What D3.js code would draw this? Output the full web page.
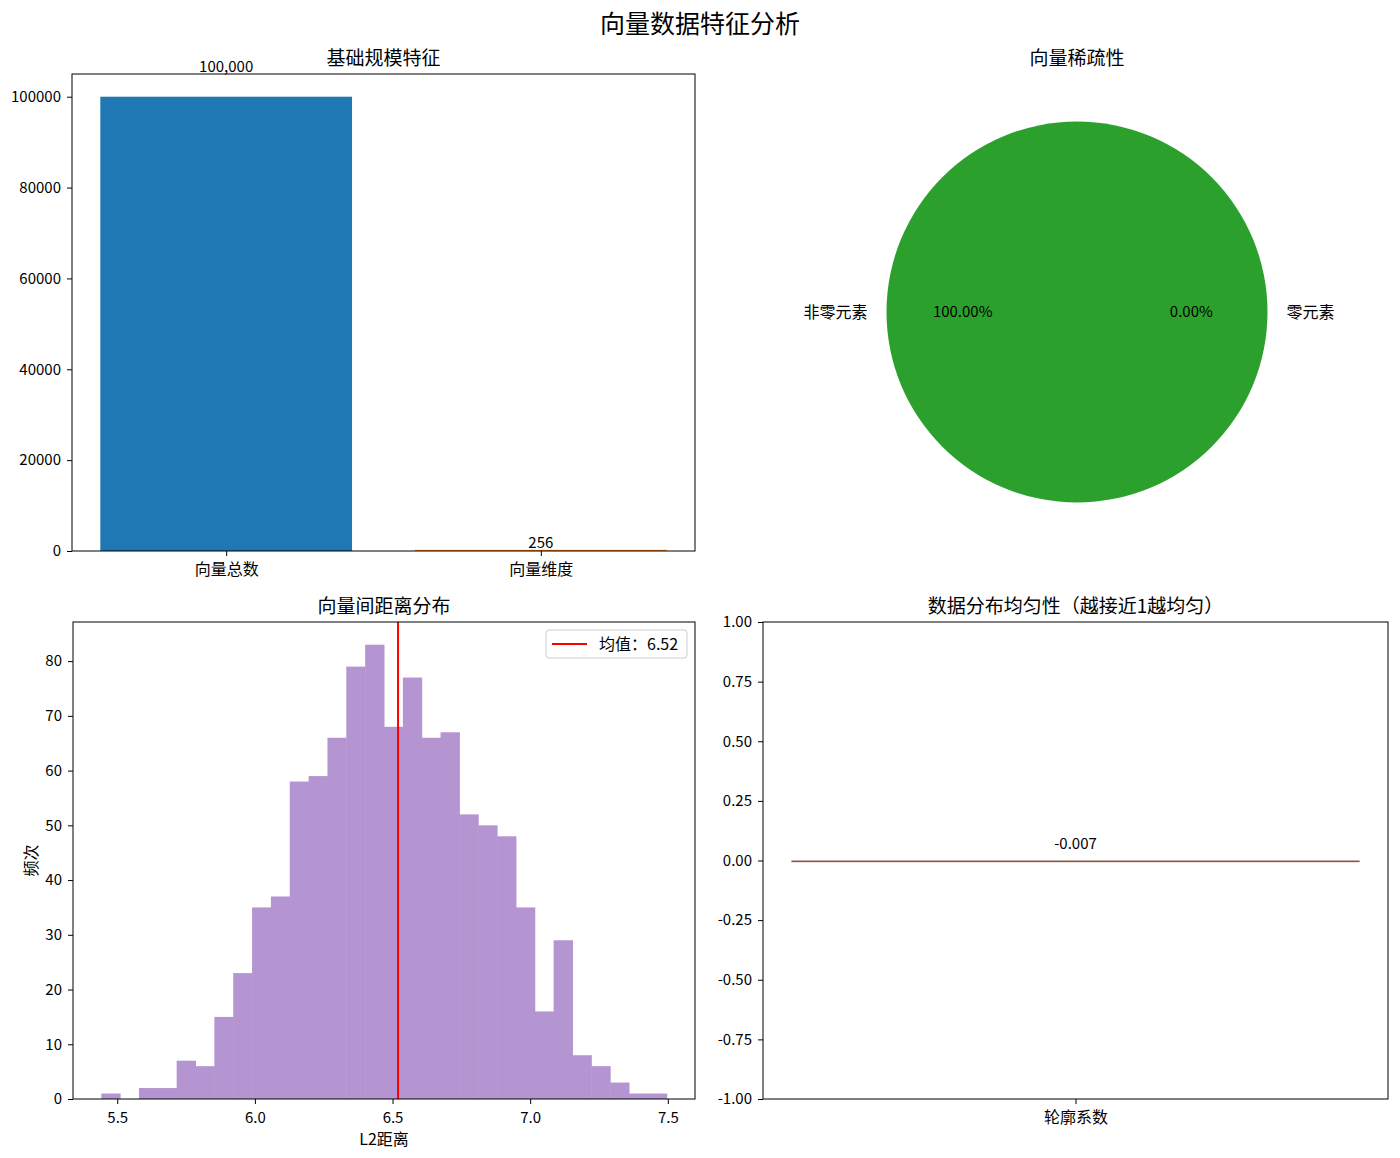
<!DOCTYPE html>
<html><head><meta charset="utf-8">
<script src="https://cdn.jsdelivr.net/npm/d3@7"></script>
<style>
body{margin:0;background:#fff;}
text{font-family:"Noto Sans CJK SC","DejaVu Sans",sans-serif;fill:#000;}
</style></head><body>
<svg id="c" width="1400" height="1158"></svg>
<script>
// ---- data ----
const scaleCategories = ["向量总数", "向量维度"];
const scaleValues = [100000, 256];
const scaleLabels = ["100,000", "256"];
const scaleColors = ["#1f77b4", "#ff7f0e"];

const sparsityLabels = ["非零元素", "零元素"];
const sparsityValues = [100, 0];
const sparsityPct = ["100.00%", "0.00%"];
const sparsityColors = ["#2ca02c", "#d62728"];

const histCounts = [1,0,2,2,7,6,15,23,35,37,58,59,66,79,83,68,77,66,67,52,50,48,35,16,29,8,6,3,1,1];
const histMin = 5.442, histMax = 7.496;
const meanDistance = 6.52;
const histXTicks = [5.5, 6.0, 6.5, 7.0, 7.5];
const histYTicks = [0,10,20,30,40,50,60,70,80];

const silCategories = ["轮廓系数"];
const silValues = [-0.007];
const silYTicks = [-1,-0.75,-0.5,-0.25,0,0.25,0.5,0.75,1];

const svg = d3.select("#c");
const fs = 15;
const fsCJK = 16;
const TS = 5, TP = 6, TPX = 8;

svg.append("text").attr("x",700).attr("y",33).attr("text-anchor","middle")
  .style("font-size","25px").text("向量数据特征分析");

function frame(g, w, h){
  g.append("rect").attr("width",w).attr("height",h).attr("fill","none")
   .attr("stroke","#000").attr("stroke-width",1);
}
function styleAxis(a){
  a.select(".domain").remove();
  a.selectAll(".tick line").attr("stroke","#000");
  a.selectAll(".tick text").style("font-size",fs+"px").attr("fill","#000");
}

// ---- Panel 1: bar ----
{
  const L=72,T=74,W=623,H=477;
  const g=svg.append("g").attr("transform",`translate(${L},${T})`);
  const x=d3.scaleLinear().domain([-0.49,1.49]).range([0,W]);
  const y=d3.scaleLinear().domain([0,105000]).range([H,0]);
  g.selectAll("rect.b").data(scaleValues).join("rect").attr("class","b")
   .attr("x",(d,i)=>x(i-0.4)).attr("width",x(0.8)-x(0))
   .attr("y",d=>y(d)).attr("height",d=>H-y(d))
   .attr("fill",(d,i)=>scaleColors[i]);
  g.selectAll("text.v").data(scaleValues).join("text").attr("class","v")
   .attr("x",(d,i)=>x(i)).attr("y",d=>y(d*1.05)-2).attr("text-anchor","middle")
   .style("font-size",fs+"px").text((d,i)=>scaleLabels[i]);
  const ax=g.append("g").attr("transform",`translate(0,${H})`)
   .call(d3.axisBottom(x).tickValues([0,1]).tickFormat(i=>scaleCategories[i]).tickSize(TS).tickPadding(TPX));
  styleAxis(ax);
  ax.selectAll(".tick text").style("font-size",fsCJK+"px");
  const ay=g.append("g").call(d3.axisLeft(y).tickValues([0,20000,40000,60000,80000,100000]).tickFormat(d3.format("d")).tickSize(TS).tickPadding(TP));
  styleAxis(ay);
  frame(g,W,H);
  svg.append("text").attr("x",L+W/2).attr("y",65).attr("text-anchor","middle").style("font-size","19px").text("基础规模特征");
}

// ---- Panel 2: pie ----
{
  const cx=1077, cy=312, r=190.5;
  const g=svg.append("g").attr("transform",`translate(${cx},${cy})`);
  const total=d3.sum(sparsityValues);
  let acc=0;
  const slices=sparsityValues.map((v,i)=>{const a0=acc/total*2*Math.PI; acc+=v; const a1=acc/total*2*Math.PI; return {i,v,a0,a1};});
  const toD3=a=>Math.PI/2 - a;
  const arc=d3.arc().innerRadius(0).outerRadius(r);
  slices.forEach(s=>{
    if(s.v>0){
      g.append("path").attr("d",arc({startAngle:toD3(s.a1),endAngle:toD3(s.a0)})).attr("fill",sparsityColors[s.i]);
    }
    const mid=(s.a0+s.a1)/2;
    const cs=Math.cos(mid), sn=Math.sin(mid);
    g.append("text").attr("x",1.1*r*cs).attr("y",-1.1*r*sn).attr("dy","0.35em")
     .attr("text-anchor",cs<0?"end":"start").style("font-size",fsCJK+"px").text(sparsityLabels[s.i]);
    g.append("text").attr("x",0.6*r*cs).attr("y",-0.6*r*sn).attr("dy","0.35em")
     .attr("text-anchor","middle").style("font-size",fs+"px").text(sparsityPct[s.i]);
  });
  svg.append("text").attr("x",cx).attr("y",65).attr("text-anchor","middle").style("font-size","19px").text("向量稀疏性");
}

// ---- Panel 3: histogram ----
{
  const L=73,T=622,W=622,H=477;
  const g=svg.append("g").attr("transform",`translate(${L},${T})`);
  const span=histMax-histMin;
  const x=d3.scaleLinear().domain([histMin-0.05*span, histMax+0.05*span]).range([0,W]);
  const y=d3.scaleLinear().domain([0, d3.max(histCounts)*1.05]).range([H,0]);
  const bw=span/histCounts.length;
  g.selectAll("rect.h").data(histCounts).join("rect").attr("class","h")
   .attr("x",(d,i)=>x(histMin+i*bw)).attr("width",x(histMin+bw)-x(histMin)+0.5)
   .attr("y",d=>y(d)).attr("height",d=>H-y(d))
   .attr("fill","#b495d1");
  g.append("line").attr("x1",x(meanDistance)).attr("x2",x(meanDistance)).attr("y1",0).attr("y2",H)
   .attr("stroke","#ff0000").attr("stroke-width",2);
  const ax=g.append("g").attr("transform",`translate(0,${H})`)
   .call(d3.axisBottom(x).tickValues(histXTicks).tickFormat(d3.format(".1f")).tickSize(TS).tickPadding(TPX));
  styleAxis(ax);
  const ay=g.append("g").call(d3.axisLeft(y).tickValues(histYTicks).tickSize(TS).tickPadding(TP));
  styleAxis(ay);
  frame(g,W,H);
  const lg=g.append("g").attr("transform",`translate(${W-149},8)`);
  lg.append("rect").attr("width",141).attr("height",28).attr("rx",3).attr("fill","#fff").attr("fill-opacity",0.8).attr("stroke","#ccc");
  lg.append("line").attr("x1",6).attr("x2",41).attr("y1",14).attr("y2",14).attr("stroke","#ff0000").attr("stroke-width",2);
  lg.append("text").attr("x",53).attr("y",14).attr("dy","0.35em").style("font-size","16px").text("均值：" + meanDistance.toFixed(2));
  svg.append("text").attr("x",L+W/2).attr("y",1145).attr("text-anchor","middle").style("font-size",fsCJK+"px").text("L2距离");
  svg.append("text").attr("transform",`translate(37,${T+H/2}) rotate(-90)`).attr("text-anchor","middle").style("font-size",fsCJK+"px").text("频次");
  svg.append("text").attr("x",L+W/2).attr("y",613).attr("text-anchor","middle").style("font-size","19px").text("向量间距离分布");
}

// ---- Panel 4: silhouette ----
{
  const L=763,T=622,W=625,H=477;
  const g=svg.append("g").attr("transform",`translate(${L},${T})`);
  const x=d3.scaleLinear().domain([-0.44,0.44]).range([0,W]);
  const y=d3.scaleLinear().domain([-1,1]).range([H,0]);
  g.selectAll("rect.s").data(silValues).join("rect").attr("class","s")
   .attr("x",(d,i)=>x(i-0.4)).attr("width",x(0.8)-x(0))
   .attr("y",d=>y(Math.max(0,d))).attr("height",d=>Math.max(1.2,Math.abs(y(d)-y(0))))
   .attr("fill","#8c564b");
  g.selectAll("text.v").data(silValues).join("text").attr("class","v")
   .attr("x",(d,i)=>x(i)).attr("y",y(0.05)).attr("text-anchor","middle")
   .style("font-size",fs+"px").text(d=>d3.format(".3f")(d).replace("−","-"));
  const ax=g.append("g").attr("transform",`translate(0,${H})`)
   .call(d3.axisBottom(x).tickValues([0]).tickFormat(i=>silCategories[i]).tickSize(TS).tickPadding(TPX));
  styleAxis(ax);
  ax.selectAll(".tick text").style("font-size",fsCJK+"px");
  const ay=g.append("g").call(d3.axisLeft(y).tickValues(silYTicks).tickFormat(d=>d3.format(".2f")(d).replace("−","-")).tickSize(TS).tickPadding(TP));
  styleAxis(ay);
  frame(g,W,H);
  svg.append("text").attr("x",L+W/2).attr("y",613).attr("text-anchor","middle").style("font-size","19px").text("数据分布均匀性（越接近1越均匀）");
}
</script></body></html>
